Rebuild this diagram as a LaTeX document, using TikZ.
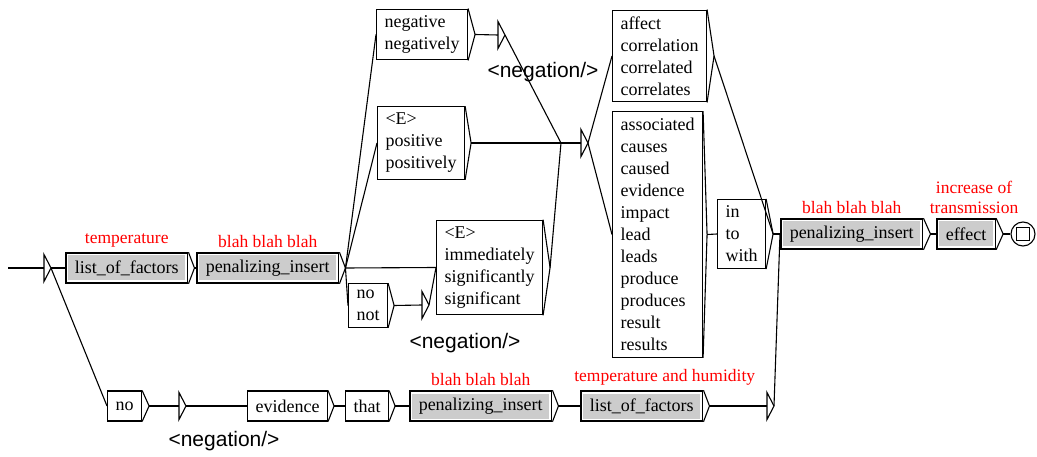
\documentclass[tikz,border=0pt]{standalone}
\usepackage{fontspec}
\setmainfont{Liberation Serif}
\newfontfamily\serfont{Liberation Serif}
\newfontfamily\outfont{Liberation Sans}
\usepackage{xcolor}
\begin{document}
\begin{tikzpicture}[x=1pt,y=-1pt,line width=1.1pt,
  wbox/.style={draw,fill=white,anchor=west,align=left,inner xsep=8pt,inner ysep=6.5pt,
    minimum height=30pt,font=\serfont\fontsize{18}{22}\selectfont},
  gbox/.style={wbox,line width=1.5pt,inner xsep=9pt,
    path picture={\fill[boxgray] ([shift={(2.5pt,-2.5pt)}]path picture bounding box.north west)
      rectangle ([shift={(-2.5pt,2.5pt)}]path picture bounding box.south east);}},
  redlbl/.style={text=red,inner sep=0pt,label distance=4pt,font=\serfont\fontsize{17.5}{20}\selectfont},
  negout/.style={anchor=west,inner sep=0pt,font=\outfont\fontsize{21}{25}\selectfont}]
\definecolor{boxgray}{HTML}{CCCCCC}
\useasboundingbox (0,0) rectangle (1037,457);
% empty boxes and junctions
\coordinate (start) at (8,268);
\coordinate (ini) at (44,268);
\coordinate (tn1) at (498,35);
\coordinate (tn2) at (422,305);
\coordinate (tn3) at (179,406);
\coordinate (te1) at (581,143);
\coordinate (te2) at (767,406);
\coordinate (j1) at (561,143);
\foreach \t in {ini,tn1,tn2,tn3,te1,te2}
{ \draw (\t) ++(0,-13.5) -- ++(7,13.5) coordinate (\t-o) -- ++(-7,13.5) -- cycle;}
% main row
\node [gbox,label={[redlbl]above:temperature}] (lof1) at (65,268) {list\_of\_factors};
\node [gbox,label={[redlbl]above:blah blah blah}] (pen1) at (196,268) {penalizing\_insert};
\node [wbox] (nb) at (376,34.5) {negative\\negatively};
\node [wbox] (pb) at (377,143) {<E>\\positive\\positively};
\node [wbox] (ib) at (436,267.5) {<E>\\immediately\\significantly\\significant};
\node [wbox] (nn) at (348,305.5) {no\\not};
\node [wbox] (ab) at (612,56) {affect\\correlation\\correlated\\correlates};
\node [wbox] (sb) at (612,234.5) {associated\\causes\\caused\\evidence\\impact\\lead\\leads\\produce\\produces\\result\\results};
\node [wbox] (wb) at (717,234) {in\\to\\with};
\node [gbox,label={[redlbl]above:blah blah blah}] (pen3) at (780,234) {penalizing\_insert};
\node [gbox,label={[redlbl,align=center,xshift=8pt]above:increase of\\transmission}] (eff) at (936,234) {effect};
\node [draw,circle,minimum size=24pt,inner sep=0pt] (fin) at (1023,234) {};
\draw (fin.center) ++(-6.5,-6.5) rectangle ++(13,13);
% bottom row
\node [wbox] (nob) at (107,406) {no};
\node [wbox] (evb) at (247,406) {evidence};
\node [wbox] (thb) at (345,406) {that};
\node [gbox,label={[redlbl]above:blah blah blah}] (pen2) at (409,406) {penalizing\_insert};
\node [gbox,label={[redlbl,xshift=23pt]above:temperature and humidity}] (lof2) at (580,406) {list\_of\_factors};
% outputs
\node [negout] (ngo1) at ([shift={(-11,37)}]tn1) {<negation/>};
\node [negout] (ngo2) at ([shift={(-13,38)}]tn2) {<negation/>};
\node [negout] (ngo3) at ([shift={(-11,35)}]tn3) {<negation/>};
% box tips
\foreach \n/\w in {lof1/6,pen1/6,nb/7,pb/6,ib/7,nn/6,ab/7,sb/4,wb/7,pen3/7,eff/7,nob/7,evb/6,thb/6,pen2/6,lof2/6}
{ \draw (\n.north east) -- ([xshift=\w]\n.east) coordinate (\n-o) -- (\n.south east);}
% transitions
\draw (start) -- (ini);
\draw (ini-o) -- (lof1.west);
\draw (ini-o) -- (nob.west);
\draw (lof1-o) -- (pen1.west);
\foreach \b in {nb,pb,ib,nn}
  \draw (pen1-o) -- (\b.west);
\draw (nb-o) -- (tn1);
\draw (tn1-o) -- (j1);
\draw (ib-o) -- (j1);
\draw (pb-o) -- (te1);
\draw (nn-o) -- (tn2);
\draw (tn2-o) -- (ib.west);
\draw (te1-o) -- (ab.west);
\draw (te1-o) -- (sb.west);
\draw (sb-o) -- (wb.west);
\draw (ab-o) -- (wb-o);
\draw (wb-o) -- (pen3.west);
\draw (te2-o) -- (pen3.west);
\draw (pen3-o) -- (eff.west);
\draw (eff-o) -- (fin);
\draw (nob-o) -- (tn3);
\draw (tn3-o) -- (evb.west);
\draw (evb-o) -- (thb.west);
\draw (thb-o) -- (pen2.west);
\draw (pen2-o) -- (lof2.west);
\draw (lof2-o) -- (te2);
\end{tikzpicture}
\end{document}
